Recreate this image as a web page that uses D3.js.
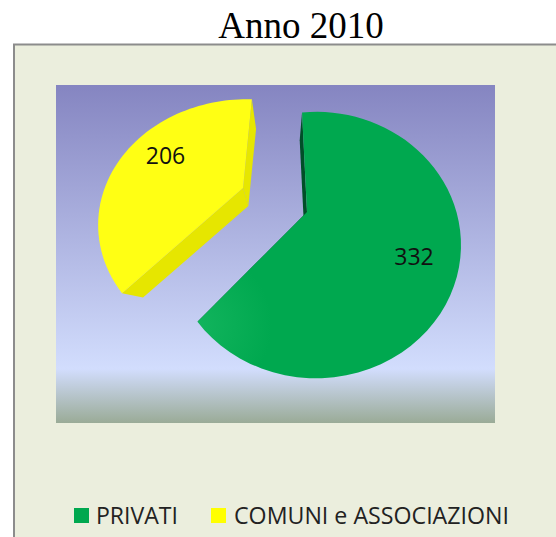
<!DOCTYPE html>
<html><head><meta charset="utf-8">
<script src="https://cdn.jsdelivr.net/npm/d3@7"></script>
<style>html,body{margin:0;padding:0;background:#fff}svg{display:block}</style></head>
<body><svg id="c" width="556" height="537"></svg>
<script>
const categories = ["PRIVATI", "COMUNI e ASSOCIAZIONI"];
const values = [332, 206];
const title = "Anno 2010";
const colors = ["#00a84f", "#ffff14"];
const legendColors = ["#00a84f", "#ffff00"];
const sideColors = ["#004f28", "#e6e600"];

const W = 556, H = 537;
const svg = d3.select("#c");
const defs = svg.append("defs");

const bg = defs.append("linearGradient").attr("id","bg").attr("x1",0).attr("y1",0).attr("x2",0).attr("y2",1);
[[0,"#8585c1"],[0.84,"#d2ddfd"],[1,"#9aab97"]].forEach(s=>bg.append("stop").attr("offset",s[0]).attr("stop-color",s[1]));
const gg = defs.append("radialGradient").attr("id","gg").attr("gradientUnits","userSpaceOnUse")
  .attr("cx",197).attr("cy",325).attr("r",75);
[[0,"#12b45d"],[1,"#00a84f"]].forEach(s=>gg.append("stop").attr("offset",s[0]).attr("stop-color",s[1]));

svg.append("rect").attr("x",14).attr("y",44.5).attr("width",W+10).attr("height",H+10)
  .attr("fill","#ebeedd").attr("stroke","#8c8c8c").attr("stroke-width",2);
svg.append("rect").attr("x",56).attr("y",85).attr("width",439).attr("height",338).attr("fill","url(#bg)");

svg.append("text").attr("x",301).attr("y",38).attr("text-anchor","middle")
  .attr("font-family","Liberation Serif").attr("font-size",37).attr("fill","#000").text(title);

// each slice lies on its own perspective-tilted disk
const disks = [
  {cx:316, cy:214, R:141, Ry:126, k:0.233, ax:-0.064, ay:-0.016},
  {cx:247, cy:190, R:143, Ry:116, k:0.278, ax:-0.028, ay:-0.017}
];
const vp = [284, 327], depth = 0.13;
const proj = (d,u,v) => { const s = 1/(1-d.k*v); return [d.cx+d.R*u*s, d.cy+d.Ry*v*s]; };
const sink = p => [p[0]+(vp[0]-p[0])*depth, p[1]+(vp[1]-p[1])*depth];
const line = d3.line();

const arcs = d3.pie().sort(null)(values);
// the picture's perspective shifts the apparent slice angles
const rad = Math.PI/180;
const view = d3.scaleLinear().domain([0, arcs[0].endAngle, 2*Math.PI]).range([-7*rad, 224.5*rad, 362.5*rad]);

arcs.forEach((a,i)=>{
  const d = disks[i];
  const a0 = view(a.startAngle), a1 = view(a.endAngle);
  const pts = [proj(d,d.ax,d.ay)];
  d3.range(0,61).forEach(j=>{
    const t = a0+(a1-a0)*j/60;
    pts.push(proj(d,Math.sin(t),-Math.cos(t)));
  });
  const g = svg.append("g");
  const n = pts.length;
  [[0,1],[n-1,0]].forEach(e=>{
    const p=pts[e[0]], q=pts[e[1]];
    g.append("path").attr("d",line([p,q,sink(q),sink(p)])+"Z").attr("fill",sideColors[i]);
  });
  g.append("path").attr("d",line(pts)+"Z").attr("fill", i===0 ? "url(#gg)" : colors[i]);
});

[[values[0],414,264.5],[values[1],165.5,164]].forEach(d=>{
  svg.append("text").attr("x",d[1]).attr("y",d[2]).attr("text-anchor","middle")
    .attr("font-family","Open Sans").attr("font-size",23).attr("fill","#111").text(d[0]);
});

const lg = [[74,96,82],[211,234,275]];
categories.forEach((c,i)=>{
  svg.append("rect").attr("x",lg[i][0]).attr("y",508).attr("width",15).attr("height",15).attr("fill",legendColors[i]);
  svg.append("text").attr("x",lg[i][1]).attr("y",523.5).attr("font-family","Open Sans").attr("font-size",23)
    .attr("fill","#222").attr("textLength",lg[i][2]).attr("lengthAdjust","spacingAndGlyphs").text(c);
});
</script></body></html>
